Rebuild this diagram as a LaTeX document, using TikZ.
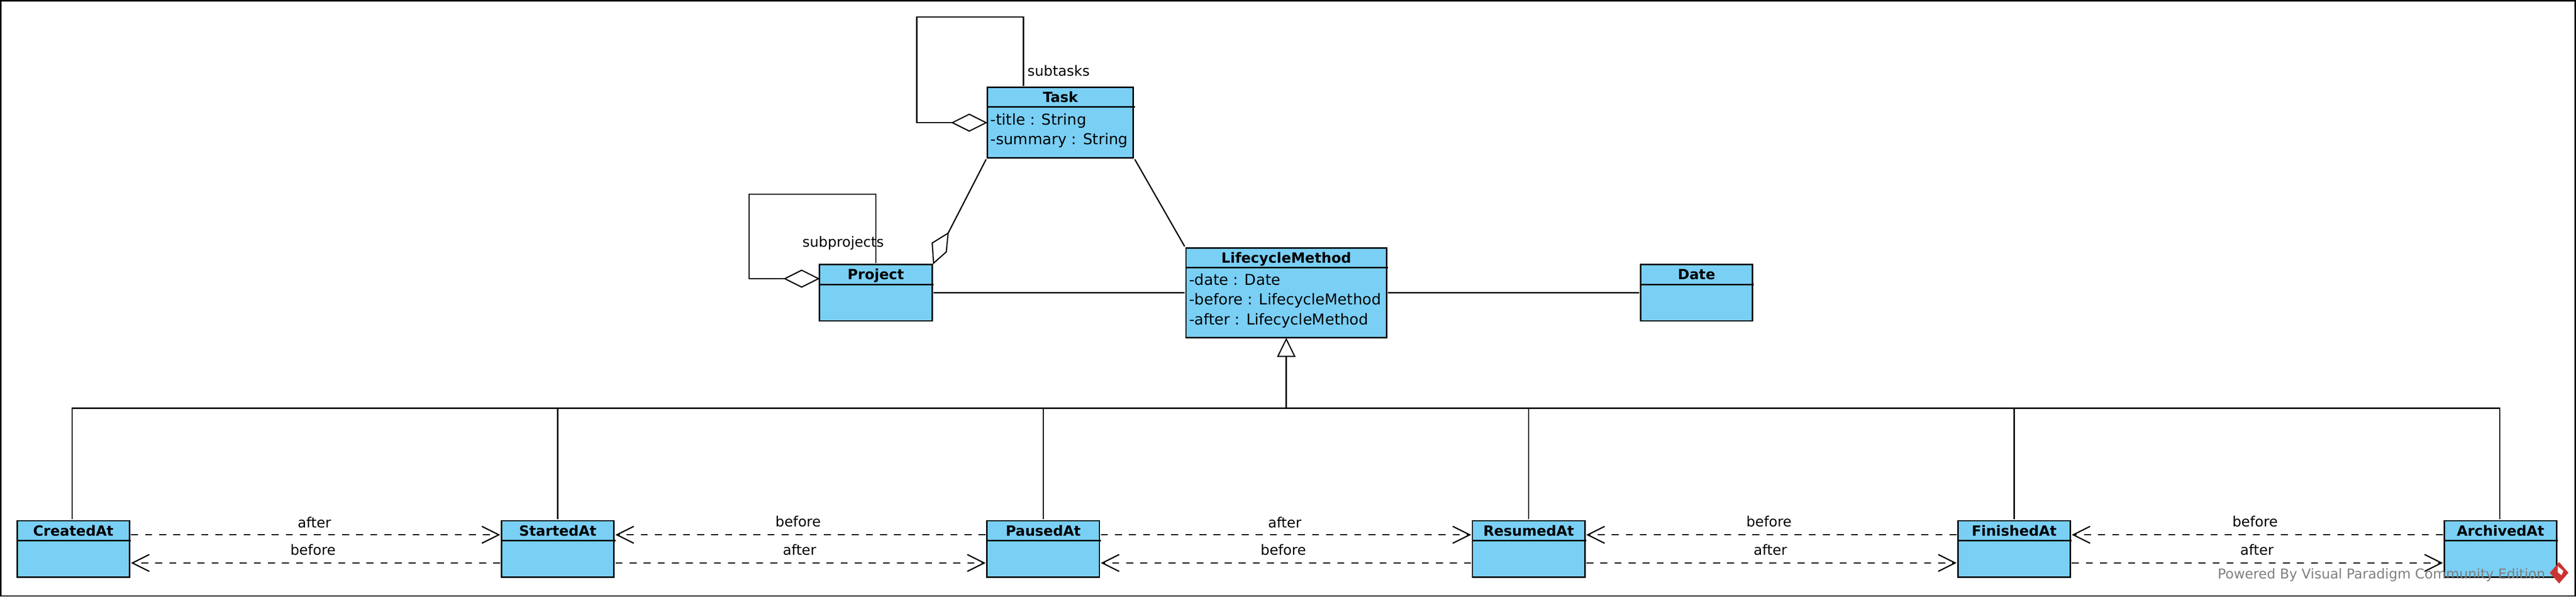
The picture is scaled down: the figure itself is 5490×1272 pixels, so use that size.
\documentclass[tikz,border=0pt]{standalone}
\usepackage{fontspec}
\setmainfont{DejaVu Sans}
\usetikzlibrary{shapes.geometric,arrows.meta,calc}
\definecolor{classblue}{HTML}{7ACFF5}
\definecolor{wmgrey}{HTML}{7F7F7F}
\definecolor{wmred}{HTML}{CC3333}
\tikzset{
  x=0.5pt,y=-0.5pt,
  umlline/.style={line width=1.35pt,line cap=butt,line join=miter,draw=black},
  classbox/.style={draw=black,fill=classblue,line width=1.5pt,rectangle,inner sep=0pt,outer sep=1.5pt},
  titletext/.style={font=\fontsize{15}{17}\selectfont\bfseries,inner sep=0pt,anchor=base},
  attrtext/.style={font=\fontsize{16}{18}\selectfont,inner sep=0pt,anchor=base west},
  labeltext/.style={font=\fontsize{15}{17}\selectfont,inner sep=0pt,anchor=center},
  aggdia/.style={diamond,aspect=2,draw=black,fill=white,line width=1.25pt,minimum width=36pt,minimum height=18pt,inner sep=0pt,outer sep=0pt,anchor=east},
  genarrow/.style={draw=black,fill=white,line width=1.25pt,line join=miter},
  depline/.style={umlline,dash pattern=on 7.5pt off 7.5pt,-{Straight Barb[length=18pt,width=18pt,line width=1.35pt]}},
  watermark/.style={font=\fontsize{14.5}{16}\selectfont,text=wmgrey,inner sep=0pt,anchor=base west},
}
% name, centre x, top, header bottom, bottom, width, title, title baseline
\newcommand{\umlclass}[8]{%
  \node[classbox,minimum width=#6*0.5pt,minimum height=(#5-#3)*0.5pt] (#1) at (#2,{(#3+#5)/2}) {};
  \node[titletext] (#1-title) at (#2,#8) {#7};
  \draw[line width=1.5pt] (#1.west |- 0,#4) ++(1.5pt,0) coordinate (#1-hl) -- (#1.east |- #1-hl) ++(-1.5pt,0);
}
\begin{document}
\begin{tikzpicture}
\useasboundingbox (0,0) rectangle (5490,1272);
\node[draw=black,line width=1.5pt,rectangle,inner sep=0pt,outer sep=0pt,minimum width=2743pt,minimum height=634.5pt] (frame) at (2745,636) {};

\umlclass{task}{2260}{186.5}{228}{336.5}{310.7}{Task}{218}
\umlclass{project}{1866.5}{564}{606.5}{684}{240.3}{Project}{596}
\umlclass{lifecycle}{2741.3}{528.3}{570.3}{720}{427.3}{LifecycleMethod}{560}
\umlclass{date}{3615.6}{564}{606.7}{684}{238.4}{Date}{596}

\node[attrtext] (task-a1) at (2110.7,266) {-title : String};
\node[attrtext] (task-a2) at (2110.7,308) {-summary : String};
\node[attrtext] (lifecycle-a1) at (2534,608) {-date : Date};
\node[attrtext] (lifecycle-a2) at (2534,650) {-before : LifecycleMethod};
\node[attrtext] (lifecycle-a3) at (2534,692) {-after : LifecycleMethod};

\umlclass{created}{156.3}{1110}{1152}{1230}{239.6}{CreatedAt}{1142}
\umlclass{started}{1188.8}{1110}{1152}{1230}{239.6}{StartedAt}{1142}
\umlclass{paused}{2223.3}{1110}{1152}{1230}{239.6}{PausedAt}{1142}
\umlclass{resumed}{3257.9}{1110}{1152}{1230}{239.6}{ResumedAt}{1142}
\umlclass{finished}{4292.5}{1110}{1152}{1230}{239.6}{FinishedAt}{1142}
\umlclass{archived}{5329}{1110}{1152}{1230}{239.6}{ArchivedAt}{1142}

% self loops
\node[aggdia] (taskdia) at (task.west) {};
\coordinate (tl1) at (2181,36);
\coordinate (tl2) at (1954,36);
\draw[umlline] (tl1 |- task.north) -- (tl1) -- (tl2) -- (tl2 |- taskdia.west) -- (taskdia.west);
\node[labeltext] (subtasks) at (2256,151) {subtasks};

\coordinate (pl0) at (1744.5,594);
\node[aggdia] (projdia) at (pl0) {};
\coordinate (pl1) at (1866.6,414);
\coordinate (pl2) at (1596.4,414);
\draw[umlline] (pl1 |- project.north) -- (pl1) -- (pl2) -- (pl2 |- projdia.west) -- (projdia.west);
\node[labeltext] (subprojects) at (1797,518) {subprojects};

% associations
\coordinate (agg1) at ($(project.north east)+(-3,-43)$);
\coordinate (agg2) at ($(project.north east)+(31,-64)$);
\coordinate (agg3) at ($(project.north east)+(27,-24)$);
\draw[genarrow] (project.north east) -- (agg1) -- (agg2) -- (agg3) -- cycle;
\draw[umlline] (task.south west) -- (agg2);
\draw[umlline] (task.south east) -- (lifecycle.north west);
\draw[umlline] (project) -- (lifecycle);
\draw[umlline] (lifecycle) -- (date);

% generalisation
\coordinate (gbase) at ($(lifecycle.south)+(0,36.6)$);
\coordinate (bus) at (lifecycle.south |- 0,870);
\coordinate (b0) at (153.6,870);
\coordinate (b1) at (1188.4,870);
\coordinate (b2) at (2223.2,870);
\coordinate (b3) at (3258,870);
\coordinate (b4) at (4292.8,870);
\coordinate (b5) at (5327.6,870);
\draw[umlline,line join=miter] (b0 |- created.north) -- (b0) -- (b5) -- (b5 |- archived.north);
\draw[umlline] (b1) -- (b1 |- started.north);
\draw[umlline] (b2) -- (b2 |- paused.north);
\draw[umlline] (b3) -- (b3 |- resumed.north);
\draw[umlline] (b4) -- (b4 |- finished.north);
\draw[umlline] (bus) -- (gbase);
\draw[genarrow] (lifecycle.south) -- ($(gbase)+(18,0)$) -- ($(gbase)+(-18,0)$) -- cycle;

% dependencies
\draw[depline] ($(created.east)+(0,-30)$) -- ($(started.west)+(0,-30)$);
\draw[depline] ($(started.west)+(0,30)$) -- ($(created.east)+(0,30)$);
\node[labeltext] (l1t) at (670,1114) {after};
\node[labeltext] (l1b) at (667,1172) {before};

\draw[depline] ($(paused.west)+(0,-30)$) -- ($(started.east)+(0,-30)$);
\draw[depline] ($(started.east)+(0,30)$) -- ($(paused.west)+(0,30)$);
\node[labeltext] (l2t) at (1701,1112) {before};
\node[labeltext] (l2b) at (1704,1172) {after};

\draw[depline] ($(paused.east)+(0,-30)$) -- ($(resumed.west)+(0,-30)$);
\draw[depline] ($(resumed.west)+(0,30)$) -- ($(paused.east)+(0,30)$);
\node[labeltext] (l3t) at (2738,1114) {after};
\node[labeltext] (l3b) at (2735,1172) {before};

\draw[depline] ($(finished.west)+(0,-30)$) -- ($(resumed.east)+(0,-30)$);
\draw[depline] ($(resumed.east)+(0,30)$) -- ($(finished.west)+(0,30)$);
\node[labeltext] (l4t) at (3770,1112) {before};
\node[labeltext] (l4b) at (3773,1172) {after};

\draw[depline] ($(archived.west)+(0,-30)$) -- ($(finished.east)+(0,-30)$);
\draw[depline] ($(finished.east)+(0,30)$) -- ($(archived.west)+(0,30)$);
\node[labeltext] (l5t) at (4806,1112) {before};
\node[labeltext] (l5b) at (4810,1172) {after};

% watermark
\node[watermark] (wm) at (4726,1234) {Powered By Visual Paradigm Community Edition};
\node[diamond,aspect=0.87,fill=wmred,minimum width=20pt,minimum height=23pt,inner sep=0pt] (logo) at (5454,1221) {};
\fill[white] ($(logo.center)+(-3,-14)$) -- ($(logo.center)+(9,-4)$) -- ($(logo.center)+(5,5)$) -- ($(logo.center)+(-3,-1)$) -- cycle;
\end{tikzpicture}
\end{document}
